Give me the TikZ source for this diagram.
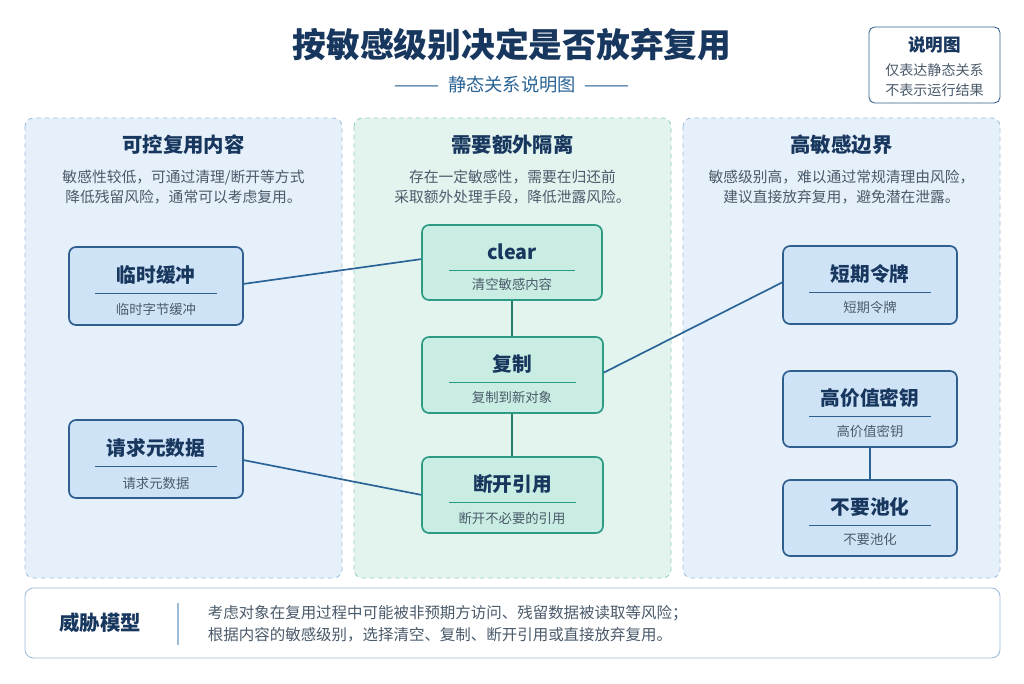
\documentclass[tikz,border=0pt]{standalone}
\usepackage{fontspec}
\setmainfont{Noto Sans CJK SC}
\usetikzlibrary{positioning}
\definecolor{navy}{HTML}{17375E}
\definecolor{txtgray}{HTML}{4A5A6A}
\definecolor{bluefill}{HTML}{E6F0FA}
\definecolor{blueline}{HTML}{9DBBDB}
\definecolor{greenfill}{HTML}{E3F4EF}
\definecolor{greenline}{HTML}{8FCDBB}
\definecolor{nodeblue}{HTML}{CFE3F7}
\definecolor{nodeblueline}{HTML}{2F5F8F}
\definecolor{nodegreen}{HTML}{C9EDE2}
\definecolor{nodegreenline}{HTML}{2E9C84}
\definecolor{linkblue}{HTML}{2A6496}
\tikzset{
  panel/.style={rounded corners=6pt, dashed, line width=0.6pt},
  item/.style={rounded corners=5pt, line width=1.2pt},
  itemtitle/.style={font=\fontsize{14}{16}\selectfont\bfseries, text=navy},
  itemsub/.style={font=\fontsize{9.5}{11}\selectfont, text=txtgray},
  ptitle/.style={font=\fontsize{14.5}{16}\selectfont\bfseries, text=navy},
  pdesc/.style={font=\fontsize{10.5}{14.5}\selectfont, text=txtgray, align=center},
  link/.style={line width=1.2pt, draw=linkblue}
}
% box with title, rule and subtitle
\newcommand{\itembox}[7]{%
  \draw[item, draw=#6, fill=#7] (#2,#3) rectangle (#4,#5);
  \node[itemtitle] at ({(#2+#4)/2},{#3+0.36*(#5-#3)}) {#1};
  \draw[#6, line width=0.5pt] ({#2+0.15*(#4-#2)},{#3+0.6*(#5-#3)}) -- ({#4-0.15*(#4-#2)},{#3+0.6*(#5-#3)});
}
\begin{document}
\begin{tikzpicture}[x=0.025cm, y=-0.025cm]
  \useasboundingbox[fill=white] (0,0) rectangle (1024,683);
  % title
  \node[font=\fontsize{24}{26}\selectfont\bfseries, text=navy] (title) at (512,45) {按敏感级别决定是否放弃复用};
  \node[font=\fontsize{13}{14}\selectfont, text=linkblue] (subtitle) at (512,85) {——— \ 静态关系说明图 \ ———};
  % legend
  \draw[rounded corners=4pt, draw=nodeblueline, fill=white, line width=0.6pt] (869,27) rectangle (1000,103);
  \node[font=\fontsize{12.5}{14}\selectfont\bfseries, text=navy] (legt) at (934.5,45) {说明图};
  \node[font=\fontsize{10}{12}\selectfont, text=txtgray] (leg1) at (934.5,70) {仅表达静态关系};
  \node[font=\fontsize{10}{12}\selectfont, text=txtgray] (leg2) at (934.5,90) {不表示运行结果};
  % panels
  \draw[panel, draw=blueline, fill=bluefill] (25,118) rectangle (342,578);
  \draw[panel, draw=greenline, fill=greenfill] (354,118) rectangle (671,578);
  \draw[panel, draw=blueline, fill=bluefill] (683,118) rectangle (1000,578);
  \node[ptitle] (pt1) at (183.5,145) {可控复用内容};
  \node[ptitle] (pt2) at (512.5,145) {需要额外隔离};
  \node[ptitle] (pt3) at (841.5,145) {高敏感边界};
  \node[pdesc] (pd1) at (183.5,187) {敏感性较低，可通过清理/断开等方式\\降低残留风险，通常可以考虑复用。};
  \node[pdesc] (pd2) at (512.5,187) {存在一定敏感性，需要在归还前\\采取额外处理手段，降低泄露风险。};
  \node[pdesc] (pd3) at (841.5,187) {敏感级别高，难以通过常规清理由风险，\\建议直接放弃复用，避免潜在泄露。};
  % connectors first
  \coordinate (buf) at (243,284); \coordinate (clr) at (422,259);
  \coordinate (meta) at (243,460); \coordinate (cut) at (422,495);
  \coordinate (clrS) at (512,300); \coordinate (cpyN) at (512,337);
  \coordinate (cpyS) at (512,413); \coordinate (cutN) at (512,457);
  \coordinate (cpy) at (603,373); \coordinate (tok) at (783,282);
  \coordinate (keyS) at (870,447); \coordinate (poolN) at (870,480);
  \draw[link] (buf) -- (clr);
  \draw[link] (meta) -- (cut);
  \draw[link, draw=nodegreenline!80!black] (clrS) -- (cpyN);
  \draw[link, draw=nodegreenline!80!black] (cpyS) -- (cutN);
  \draw[link] (cpy) -- (tok);
  \draw[link] (keyS) -- (poolN);
  % items
  \itembox{临时缓冲}{69}{247}{243}{325}{nodeblueline}{nodeblue}
  \node[itemsub] (s1) at (156,309) {临时字节缓冲};
  \itembox{请求元数据}{69}{420}{243}{498}{nodeblueline}{nodeblue}
  \node[itemsub] (s2) at (156,483) {请求元数据};
  \itembox{clear}{422}{225}{602}{300}{nodegreenline}{nodegreen}
  \node[itemsub] (s3) at (512,284) {清空敏感内容};
  \itembox{复制}{422}{337}{603}{413}{nodegreenline}{nodegreen}
  \node[itemsub] (s4) at (512,397) {复制到新对象};
  \itembox{断开引用}{422}{457}{603}{533}{nodegreenline}{nodegreen}
  \node[itemsub] (s5) at (512,518) {断开不必要的引用};
  \itembox{短期令牌}{783}{246}{957}{324}{nodeblueline}{nodeblue}
  \node[itemsub] (s6) at (870,307) {短期令牌};
  \itembox{高价值密钥}{783}{371}{957}{447}{nodeblueline}{nodeblue}
  \node[itemsub] (s7) at (870,431) {高价值密钥};
  \itembox{不要池化}{783}{480}{957}{556}{nodeblueline}{nodeblue}
  \node[itemsub] (s8) at (870,539) {不要池化};
  % threat model
  \draw[panel, solid, draw=blueline, fill=white] (25,588) rectangle (1000,658);
  \node[font=\fontsize{14.5}{16}\selectfont\bfseries, text=navy] (tm) at (100,623) {威胁模型};
  \draw[blueline, line width=1pt] (178,603) -- (178,645);
  \node[font=\fontsize{11}{16}\selectfont, text=txtgray, align=left, anchor=west] (tmd) at (203,624)
    {考虑对象在复用过程中可能被非预期方访问、残留数据被读取等风险；\\根据内容的敏感级别，选择清空、复制、断开引用或直接放弃复用。};
\end{tikzpicture}
\end{document}
